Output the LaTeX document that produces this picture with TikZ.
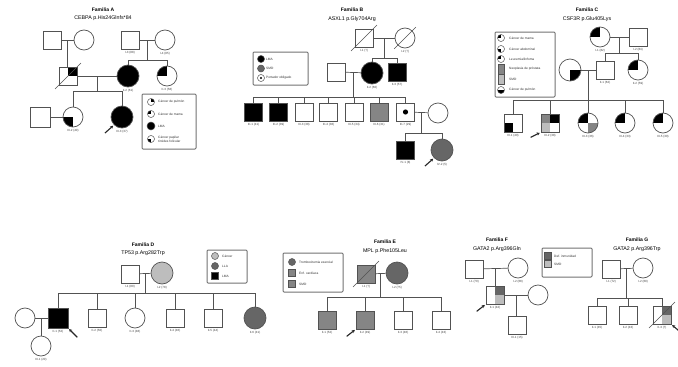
\documentclass[tikz,border=0pt]{standalone}
\usepackage{fontspec}
\setmainfont{Liberation Sans}
\usetikzlibrary{calc,arrows.meta}
\definecolor{ln}{gray}{0.32}
\definecolor{gdark}{gray}{0.40}
\definecolor{gmid}{gray}{0.52}
\definecolor{glight}{gray}{0.74}
\tikzset{
  ind/.style={draw=ln, line width=0.7pt, fill=white, inner sep=0pt},
  male/.style={ind, rectangle, minimum size=18pt},
  fem/.style={ind, circle, minimum size=20pt},
  big/.style={minimum size=22pt},
  link/.style={draw=ln, line width=0.7pt},
  deceased/.style={draw=ln, line width=0.6pt, shorten <=-5pt, shorten >=-5pt},
  proband/.style={-{Stealth[length=3pt,width=3.2pt]}, line width=1.1pt, black!85, shorten >=1pt},
  quad/.style n args={4}{path picture={
    \fill[#1] (path picture bounding box.center) rectangle (path picture bounding box.north west);
    \fill[#2] (path picture bounding box.center) rectangle (path picture bounding box.north east);
    \fill[#3] (path picture bounding box.center) rectangle (path picture bounding box.south west);
    \fill[#4] (path picture bounding box.center) rectangle (path picture bounding box.south east);}},
  carrier/.style={path picture={\fill[black] (path picture bounding box.center) circle (2.6pt);}},
  ttl/.style={font=\bfseries\fontsize{5}{5.5}\selectfont, inner sep=0pt},
  sub/.style={font=\fontsize{5.3}{6}\selectfont, inner sep=0pt},
  lab/.style={font=\fontsize{3}{3.5}\selectfont, text=black!75, inner sep=0pt, anchor=north, yshift=-2pt},
  legframe/.style={draw=black!55, line width=1pt, rounded corners=1pt},
  legt/.style={font=\fontsize{3.2}{3.8}\selectfont, text=black!80, inner sep=0pt, anchor=west, align=left},
  icon/.style={ind, line width=0.5pt, circle, minimum size=7pt},
  iconsq/.style={ind, line width=0.5pt, rectangle, minimum size=7pt},
}
\begin{document}
\begin{tikzpicture}[x=1pt, y=-1pt]
\useasboundingbox[fill=white] (0,0) rectangle (678,367);

%% ---------------- Familia A ----------------
\node[ttl] (tA) at (103,10) {Familia A};
\node[sub] (sA) at (103,18) {CEBPA p.His24Glnfs*84};
\node[male] (A1) at (52,40) {};
\node[fem] (A2) at (84,40) {};
\node[male] (A3) at (130,40) {};
\node[fem] (A4) at (165,40) {};
\node[male, quad={white}{black}{white}{white}] (A5) at (68,76) {};
\node[fem, big, fill=black] (A6) at (128,76) {};
\node[fem, quad={black}{white}{white}{white}] (A7) at (167,76) {};
\node[male, minimum size=20pt] (A8) at (40,117) {};
\node[fem, quad={white}{white}{black}{white}] (A9) at (73,117) {};
\node[fem, big, fill=black] (A10) at (122,117) {};
\draw[link] (A1) -- (A2);
\coordinate (mA12) at ($(A1.east)!0.5!(A2.west)$);
\draw[link] (mA12) -- (mA12 |- A5.north);
\draw[link] (A3) -- (A4);
\coordinate (mA34) at ($(A3.east)!0.5!(A4.west)$);
\coordinate (jA1) at (0,60);
\draw[link] (mA34) -- (mA34 |- jA1);
\draw[link] (A6.north |- jA1) -- (A7.north |- jA1);
\foreach \c in {A6,A7} \draw[link] (\c.north |- jA1) -- (\c.north);
\draw[link] (A5) -- (A6);
\coordinate (mA56) at ($(A5.east)!0.5!(A6.west)$);
\coordinate (jA2) at (0,91);
\draw[link] (mA56) -- (mA56 |- jA2);
\draw[link] (A9.north |- jA2) -- (A10.north |- jA2);
\foreach \c in {A9,A10} \draw[link] (\c.north |- jA2) -- (\c.north);
\draw[link] (A8) -- (A9);
\draw[deceased] (A5.south west) -- (A5.north east);
\draw[proband] ($(A10.225)+(-9,8)$) -- (A10.225);
\node[lab] (lA3) at (A3.south) {I-3 (88)};
\node[lab] (lA4) at (A4.south) {I-4 (85)};
\node[lab] (lA6) at (A6.south) {II-2 (61)};
\node[lab] (lA7) at (A7.south) {II-3 (58)};
\node[lab] (lA9) at (A9.south) {III-2 (40)};
\node[lab] (lA10) at (A10.south) {III-3 (37)};
% legend A
\draw[legframe] (142,94) rectangle (196,149);
\node[icon, quad={white}{black}{white}{white}] (gA1) at (151,102) {};
\node[legt] (xA1) at (158,102) {Cáncer de pulmón};
\node[icon, quad={black}{white}{white}{white}] (gA2) at (151,114) {};
\node[legt] (xA2) at (158,114) {Cáncer de mama};
\node[icon, minimum size=8pt, fill=black] (gA3) at (151,126) {};
\node[legt] (xA3) at (158,126) {LMA};
\node[icon, quad={white}{white}{black}{white}] (gA4) at (151,139) {};
\node[legt] (xA4) at (158,139) {Cáncer papilar\\tiroides folicular};

%% ---------------- Familia B ----------------
\node[ttl] (tB) at (352,10) {Familia B};
\node[sub] (sB) at (352,19) {ASXL1 p.Gly704Arg};
\node[male] (B1) at (364,38) {};
\node[fem] (B2) at (405,38) {};
\node[male] (B3) at (336,72) {};
\node[fem, big, fill=black] (B4) at (372,73) {};
\node[male, fill=black] (B5) at (397,72) {};
\node[male, fill=black] (B6) at (253.5,112) {};
\node[male, fill=black] (B7) at (278.5,112) {};
\node[male] (B8) at (304,112) {};
\node[male] (B9) at (328.5,112) {};
\node[male] (B10) at (354,112) {};
\node[male, fill=gmid] (B11) at (379,112) {};
\node[male, carrier] (B12) at (405.5,112) {};
\node[fem] (B13) at (438,113) {};
\node[male, fill=black] (B14) at (405.5,150) {};
\node[fem, big, fill=gdark] (B15) at (442,150) {};
\draw[link] (B1) -- (B2);
\draw[deceased] (B1.south west) -- (B1.north east);
\draw[deceased] (B2.225) -- (B2.45);
\coordinate (mB12) at ($(B1.east)!0.5!(B2.west)$);
\coordinate (jB1) at (0,58);
\draw[link] (mB12) -- (mB12 |- jB1);
\draw[link] (B4.north |- jB1) -- (B5.north |- jB1);
\foreach \c in {B4,B5} \draw[link] (\c.north |- jB1) -- (\c.north);
\draw[link] (B3) -- (B4);
\coordinate (mB34) at ($(B3.east)!0.5!(B4.west)$);
\coordinate (jB2) at (0,97);
\draw[link] (mB34) -- (mB34 |- jB2);
\draw[link] (B6.north |- jB2) -- (B12.north |- jB2);
\foreach \c in {B6,B7,B8,B9,B10,B11,B12} \draw[link] (\c.north |- jB2) -- (\c.north);
\draw[link] (B12) -- (B13);
\coordinate (mB1213) at ($(B12.east)!0.5!(B13.west)$);
\coordinate (jB3) at (0,133);
\draw[link] (mB1213) -- (mB1213 |- jB3);
\draw[link] (B14.north |- jB3) -- (B15.north |- jB3);
\foreach \c in {B14,B15} \draw[link] (\c.north |- jB3) -- (\c.north);
\draw[proband] ($(B15.225)+(-9,8)$) -- (B15.225);
\node[lab] (lB1) at (B1.south) {I-1 (†)};
\node[lab] (lB2) at (B2.south) {I-2 (†)};
\node[lab] (lB4) at (B4.south) {II-2 (60)};
\node[lab] (lB5) at (B5.south) {II-3 (57)};
\node[lab] (lB6) at (B6.south) {III-1 (41)};
\node[lab] (lB7) at (B7.south) {III-2 (39)};
\node[lab] (lB8) at (B8.south) {III-3 (38)};
\node[lab] (lB9) at (B9.south) {III-4 (36)};
\node[lab] (lB10) at (B10.south) {III-5 (34)};
\node[lab] (lB11) at (B11.south) {III-6 (31)};
\node[lab] (lB12) at (B12.south) {III-7 (29)};
\node[lab] (lB14) at (B14.south) {IV-1 (8)};
\node[lab] (lB15) at (B15.south) {IV-2 (5)};
% legend B
\draw[legframe] (253,52) rectangle (308,85);
\node[icon, fill=black] (gB1) at (261,59) {};
\node[legt] (xB1) at (266,59) {LMA};
\node[icon, fill=gdark] (gB2) at (261,68.5) {};
\node[legt] (xB2) at (266,68.5) {SMD};
\node[icon, path picture={\fill[black] (path picture bounding box.center) circle (1.2pt);}] (gB3) at (261,78) {};
\node[legt] (xB3) at (266,78) {Portador obligado};

%% ---------------- Familia C ----------------
\node[ttl] (tC) at (587,10) {Familia C};
\node[sub] (sC) at (587,19) {CSF3R p.Glu405Lys};
\node[fem, quad={black}{white}{white}{white}] (C1) at (600,37) {};
\node[male] (C2) at (638,37) {};
\node[fem, big, quad={white}{white}{white}{black}] (C3) at (570,70) {};
\node[male] (C4) at (605,70) {};
\node[fem, quad={black}{white}{white}{white}] (C5) at (638,70) {};
\node[male, quad={white}{white}{black}{white}] (C6) at (513,123) {};
\node[male, quad={gmid}{black}{glight}{white}] (C7) at (550,123) {};
\node[fem, quad={black}{white}{white}{gmid}] (C8) at (588,123) {};
\node[fem, quad={black}{white}{white}{white}] (C9) at (625,123) {};
\node[fem, quad={black}{white}{white}{white}] (C10) at (663,123) {};
\draw[link] (C1) -- (C2);
\coordinate (mC12) at ($(C1.east)!0.5!(C2.west)$);
\coordinate (jC1) at (0,53);
\draw[link] (mC12) -- (mC12 |- jC1);
\draw[link] (C4.north |- jC1) -- (C5.north |- jC1);
\foreach \c in {C4,C5} \draw[link] (\c.north |- jC1) -- (\c.north);
\draw[link] (C3) -- (C4);
\coordinate (mC34) at ($(C3.east)!0.5!(C4.west)$);
\coordinate (jC2) at (0,100);
\draw[link] (mC34) -- (mC34 |- jC2);
\draw[link] (C6.north |- jC2) -- (C10.north |- jC2);
\foreach \c in {C6,C7,C8,C9,C10} \draw[link] (\c.north |- jC2) -- (\c.north);
\draw[proband] ($(C7.south west)+(-10,5)$) -- (C7.south west);
\node[lab] (lC1) at (C1.south) {I-1 (82)};
\node[lab] (lC2) at (C2.south) {I-2 (84)};
\node[lab] (lC4) at (C4.south) {II-1 (62)};
\node[lab] (lC5) at (C5.south) {II-2 (59)};
\node[lab] (lC6) at (C6.south) {III-1 (40)};
\node[lab] (lC7) at (C7.south) {III-2 (38)};
\node[lab] (lC8) at (C8.south) {III-3 (36)};
\node[lab] (lC9) at (C9.south) {III-4 (33)};
\node[lab] (lC10) at (C10.south) {III-5 (30)};
% legend C
\draw[legframe] (495,32) rectangle (555,97);
\node[icon, quad={black}{white}{white}{white}] (gC1) at (501,38) {};
\node[legt] (xC1) at (509,38) {Cáncer de mama};
\node[icon, quad={white}{white}{black}{white}] (gC2) at (501,49) {};
\node[legt] (xC2) at (509,49) {Cáncer abdominal};
\node[icon, quad={black}{white}{white}{white}] (gC3) at (501,59) {};
\node[legt] (xC3) at (509,59) {Leucemia/linfoma};
\node[iconsq, fill=gmid, minimum height=10pt, minimum width=6pt] (gC4) at (501,69) {};
\node[legt] (xC4) at (509,69) {Neoplasia de próstata};
\node[iconsq, fill=glight, minimum height=10pt, minimum width=6pt] (gC5) at (501,79) {};
\node[legt] (xC5) at (509,79) {SMD};
\node[icon, quad={white}{white}{black}{black}] (gC6) at (501,90) {};
\node[legt] (xC6) at (509,90) {Cáncer de pulmón};

%% ---------------- Familia D ----------------
\node[ttl] (tD) at (143,245) {Familia D};
\node[sub] (sD) at (143,253) {TP53 p.Arg282Trp};
\node[male] (D1) at (130,274) {};
\node[fem, big, fill=glight] (D2) at (162,273) {};
\node[fem] (D9) at (25,318) {};
\node[male, minimum size=20pt, fill=black] (D3) at (58,318) {};
\node[male] (D4) at (97,318) {};
\node[fem] (D5) at (135,318) {};
\node[male] (D6) at (175,318) {};
\node[male] (D7) at (213,318) {};
\node[fem, big, fill=gdark] (D8) at (255,318) {};
\node[fem] (D10) at (41,346) {};
\draw[link] (D1) -- (D2);
\coordinate (mD12) at ($(D1.east)!0.5!(D2.west)$);
\coordinate (jD1) at (0,293);
\draw[link] (mD12) -- (mD12 |- jD1);
\draw[link] (D3.north |- jD1) -- (D8.north |- jD1);
\foreach \c in {D3,D4,D5,D6,D7,D8} \draw[link] (\c.north |- jD1) -- (\c.north);
\draw[link] (D9) -- (D3);
\coordinate (mD93) at ($(D9.east)!0.5!(D3.west)$);
\draw[link] (mD93) -- (mD93 |- D10.north);
\draw[proband] ($(D3.south east)+(9,9)$) -- (D3.south east);
\node[lab] (lD1) at (D1.south) {I-1 (80)};
\node[lab] (lD2) at (D2.south) {I-2 (78)};
\node[lab] (lD3) at (D3.south) {II-1 (52)};
\node[lab] (lD4) at (D4.south) {II-2 (50)};
\node[lab] (lD5) at (D5.south) {II-3 (48)};
\node[lab] (lD6) at (D6.south) {II-4 (46)};
\node[lab] (lD7) at (D7.south) {II-5 (44)};
\node[lab] (lD8) at (D8.south) {II-6 (41)};
\node[lab] (lD10) at (D10.south) {III-1 (20)};
% legend D
\draw[legframe] (207,250) rectangle (247,283);
\node[icon, fill=glight] (gD1) at (215,256) {};
\node[legt] (xD1) at (222,256) {Cáncer};
\node[icon, fill=gdark] (gD2) at (215,266) {};
\node[legt] (xD2) at (222,266) {LLA};
\node[iconsq, fill=black] (gD3) at (215,276) {};
\node[legt] (xD3) at (222,276) {LMA};

%% ---------------- Familia E ----------------
\node[ttl] (tE) at (385,242) {Familia E};
\node[sub] (sE) at (385,251) {MPL p.Phe105Leu};
\node[male, fill=gmid] (E1) at (366,274) {};
\node[fem, big, fill=gdark] (E2) at (397,273) {};
\node[male, fill=gmid] (E3) at (327,320) {};
\node[male, fill=gmid] (E4) at (365,320) {};
\node[male] (E5) at (403,320) {};
\node[male] (E6) at (441,320) {};
\draw[link] (E1) -- (E2);
\draw[deceased] (E1.south west) -- (E1.north east);
\coordinate (mE12) at ($(E1.east)!0.5!(E2.west)$);
\coordinate (jE1) at (0,297);
\draw[link] (mE12) -- (mE12 |- jE1);
\draw[link] (E3.north |- jE1) -- (E6.north |- jE1);
\foreach \c in {E3,E4,E5,E6} \draw[link] (\c.north |- jE1) -- (\c.north);
\draw[proband] ($(E4.south west)+(-9,7)$) -- (E4.south west);
\node[lab] (lE1) at (E1.south) {I-1 (†)};
\node[lab] (lE2) at (E2.south) {I-2 (75)};
\node[lab] (lE3) at (E3.south) {II-1 (52)};
\node[lab] (lE4) at (E4.south) {II-2 (49)};
\node[lab] (lE5) at (E5.south) {II-3 (46)};
\node[lab] (lE6) at (E6.south) {II-4 (43)};
% legend E
\draw[legframe] (283,253) rectangle (343,292);
\node[icon, fill=gdark] (gE1) at (292,262) {};
\node[legt] (xE1) at (299,262) {Trombocitemia esencial};
\node[iconsq, fill=gmid] (gE2) at (292,273) {};
\node[legt] (xE2) at (299,273) {Enf. cardíaca};
\node[iconsq, fill=gmid] (gE3) at (292,284) {};
\node[legt] (xE3) at (299,284) {SMD};

%% ---------------- Familia F ----------------
\node[ttl] (tF) at (497,240) {Familia F};
\node[sub] (sF) at (497,249) {GATA2 p.Arg396Gln};
\node[male] (F1) at (474,269) {};
\node[fem] (F2) at (518,268) {};
\node[male, quad={white}{gdark}{white}{glight}] (F3) at (495,295) {};
\node[fem] (F4) at (538,295) {};
\node[male] (F5) at (517,325) {};
\draw[link] (F1) -- (F2);
\coordinate (mF12) at ($(F1.east)!0.5!(F2.west)$);
\draw[link] (mF12) -- (mF12 |- F3.north);
\draw[link] (F3) -- (F4);
\coordinate (mF34) at ($(F3.east)!0.5!(F4.west)$);
\draw[link] (mF34) -- (mF34 |- F5.north);
\draw[proband] ($(F3.south west)+(-9,7)$) -- (F3.south west);
\node[lab] (lF1) at (F1.south) {I-1 (70)};
\node[lab] (lF2) at (F2.south) {I-2 (68)};
\node[lab] (lF3) at (F3.south) {II-1 (42)};
\node[lab] (lF5) at (F5.south) {III-1 (15)};
% legend F / G
\draw[legframe] (542,248) rectangle (592,277);
\node[iconsq, fill=gdark] (gF1) at (548,256) {};
\node[legt] (xF1) at (554,256) {Def. inmunidad};
\node[iconsq, fill=glight] (gF2) at (548,264) {};
\node[legt] (xF2) at (554,264) {SMD};

%% ---------------- Familia G ----------------
\node[ttl] (tG) at (637,240) {Familia G};
\node[sub] (sG) at (637,249) {GATA2 p.Arg396Trp};
\node[male] (G1) at (611,269) {};
\node[fem] (G2) at (643,268) {};
\node[male] (G3) at (597,315) {};
\node[male] (G4) at (628,315) {};
\node[male, quad={white}{gdark}{white}{glight}] (G5) at (662,315) {};
\draw[link] (G1) -- (G2);
\coordinate (mG12) at ($(G1.east)!0.5!(G2.west)$);
\coordinate (jG1) at (0,298);
\draw[link] (mG12) -- (mG12 |- jG1);
\draw[link] (G3.north |- jG1) -- (G5.north |- jG1);
\foreach \c in {G3,G4,G5} \draw[link] (\c.north |- jG1) -- (\c.north);
\draw[deceased] (G5.south west) -- (G5.north east);
\draw[proband] ($(G5.south east)+(7,6)$) -- (G5.south east);
\node[lab] (lG1) at (G1.south) {I-1 (72)};
\node[lab] (lG2) at (G2.south) {I-2 (69)};
\node[lab] (lG3) at (G3.south) {II-1 (45)};
\node[lab] (lG4) at (G4.south) {II-2 (43)};
\node[lab] (lG5) at (G5.south) {II-3 (†)};
\end{tikzpicture}
\end{document}
